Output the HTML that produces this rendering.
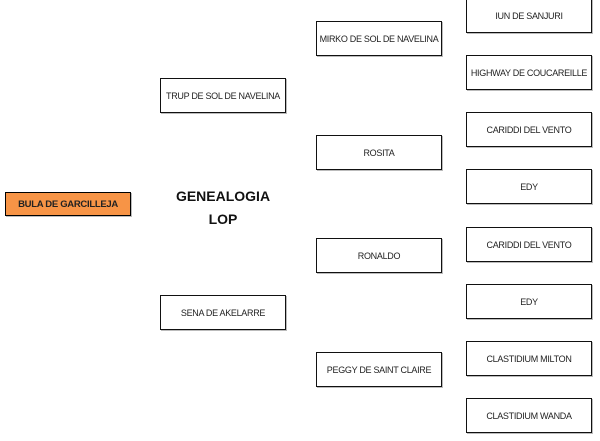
<!DOCTYPE html>
<html><head><meta charset="utf-8"><style>
body{margin:0;width:600px;height:441px;background:#fff;position:relative;overflow:hidden;font-family:"Liberation Sans",sans-serif}
.b{position:absolute;box-sizing:border-box;border:1.5px solid #111;background:#fff;display:flex;align-items:center;justify-content:center;font-size:9px;color:#222;letter-spacing:-0.3px;box-shadow:1px 1px 0 #bbb;white-space:nowrap}
.t{position:absolute;font-weight:bold;font-size:14px;color:#111;text-align:center;width:120px}
</style></head><body>
<div class="b" style="left:5px;top:192px;width:126px;height:24px;background:#f79446;font-weight:bold;font-size:9.5px;border-color:#000">BULA DE GARCILLEJA</div>
<div class="t" style="left:163px;top:188px">GENEALOGIA</div>
<div class="t" style="left:163px;top:211px">LOP</div>
<div class="b" style="left:160px;top:78px;width:126px;height:35px">TRUP DE SOL DE NAVELINA</div>
<div class="b" style="left:160px;top:295px;width:126px;height:35px">SENA DE AKELARRE</div>
<div class="b" style="left:316px;top:21px;width:126px;height:35px">MIRKO DE SOL DE NAVELINA</div>
<div class="b" style="left:316px;top:135px;width:126px;height:35px">ROSITA</div>
<div class="b" style="left:316px;top:238px;width:126px;height:35px">RONALDO</div>
<div class="b" style="left:316px;top:352px;width:126px;height:35px">PEGGY DE SAINT CLAIRE</div>
<div class="b" style="left:466px;top:-2px;width:126px;height:35px">IUN DE SANJURI</div>
<div class="b" style="left:466px;top:55px;width:126px;height:35px">HIGHWAY DE COUCAREILLE</div>
<div class="b" style="left:466px;top:112px;width:126px;height:35px">CARIDDI DEL VENTO</div>
<div class="b" style="left:466px;top:169px;width:126px;height:35px">EDY</div>
<div class="b" style="left:466px;top:227px;width:126px;height:35px">CARIDDI DEL VENTO</div>
<div class="b" style="left:466px;top:284px;width:126px;height:35px">EDY</div>
<div class="b" style="left:466px;top:341px;width:126px;height:35px">CLASTIDIUM MILTON</div>
<div class="b" style="left:466px;top:398px;width:126px;height:35px">CLASTIDIUM WANDA</div>
</body></html>
